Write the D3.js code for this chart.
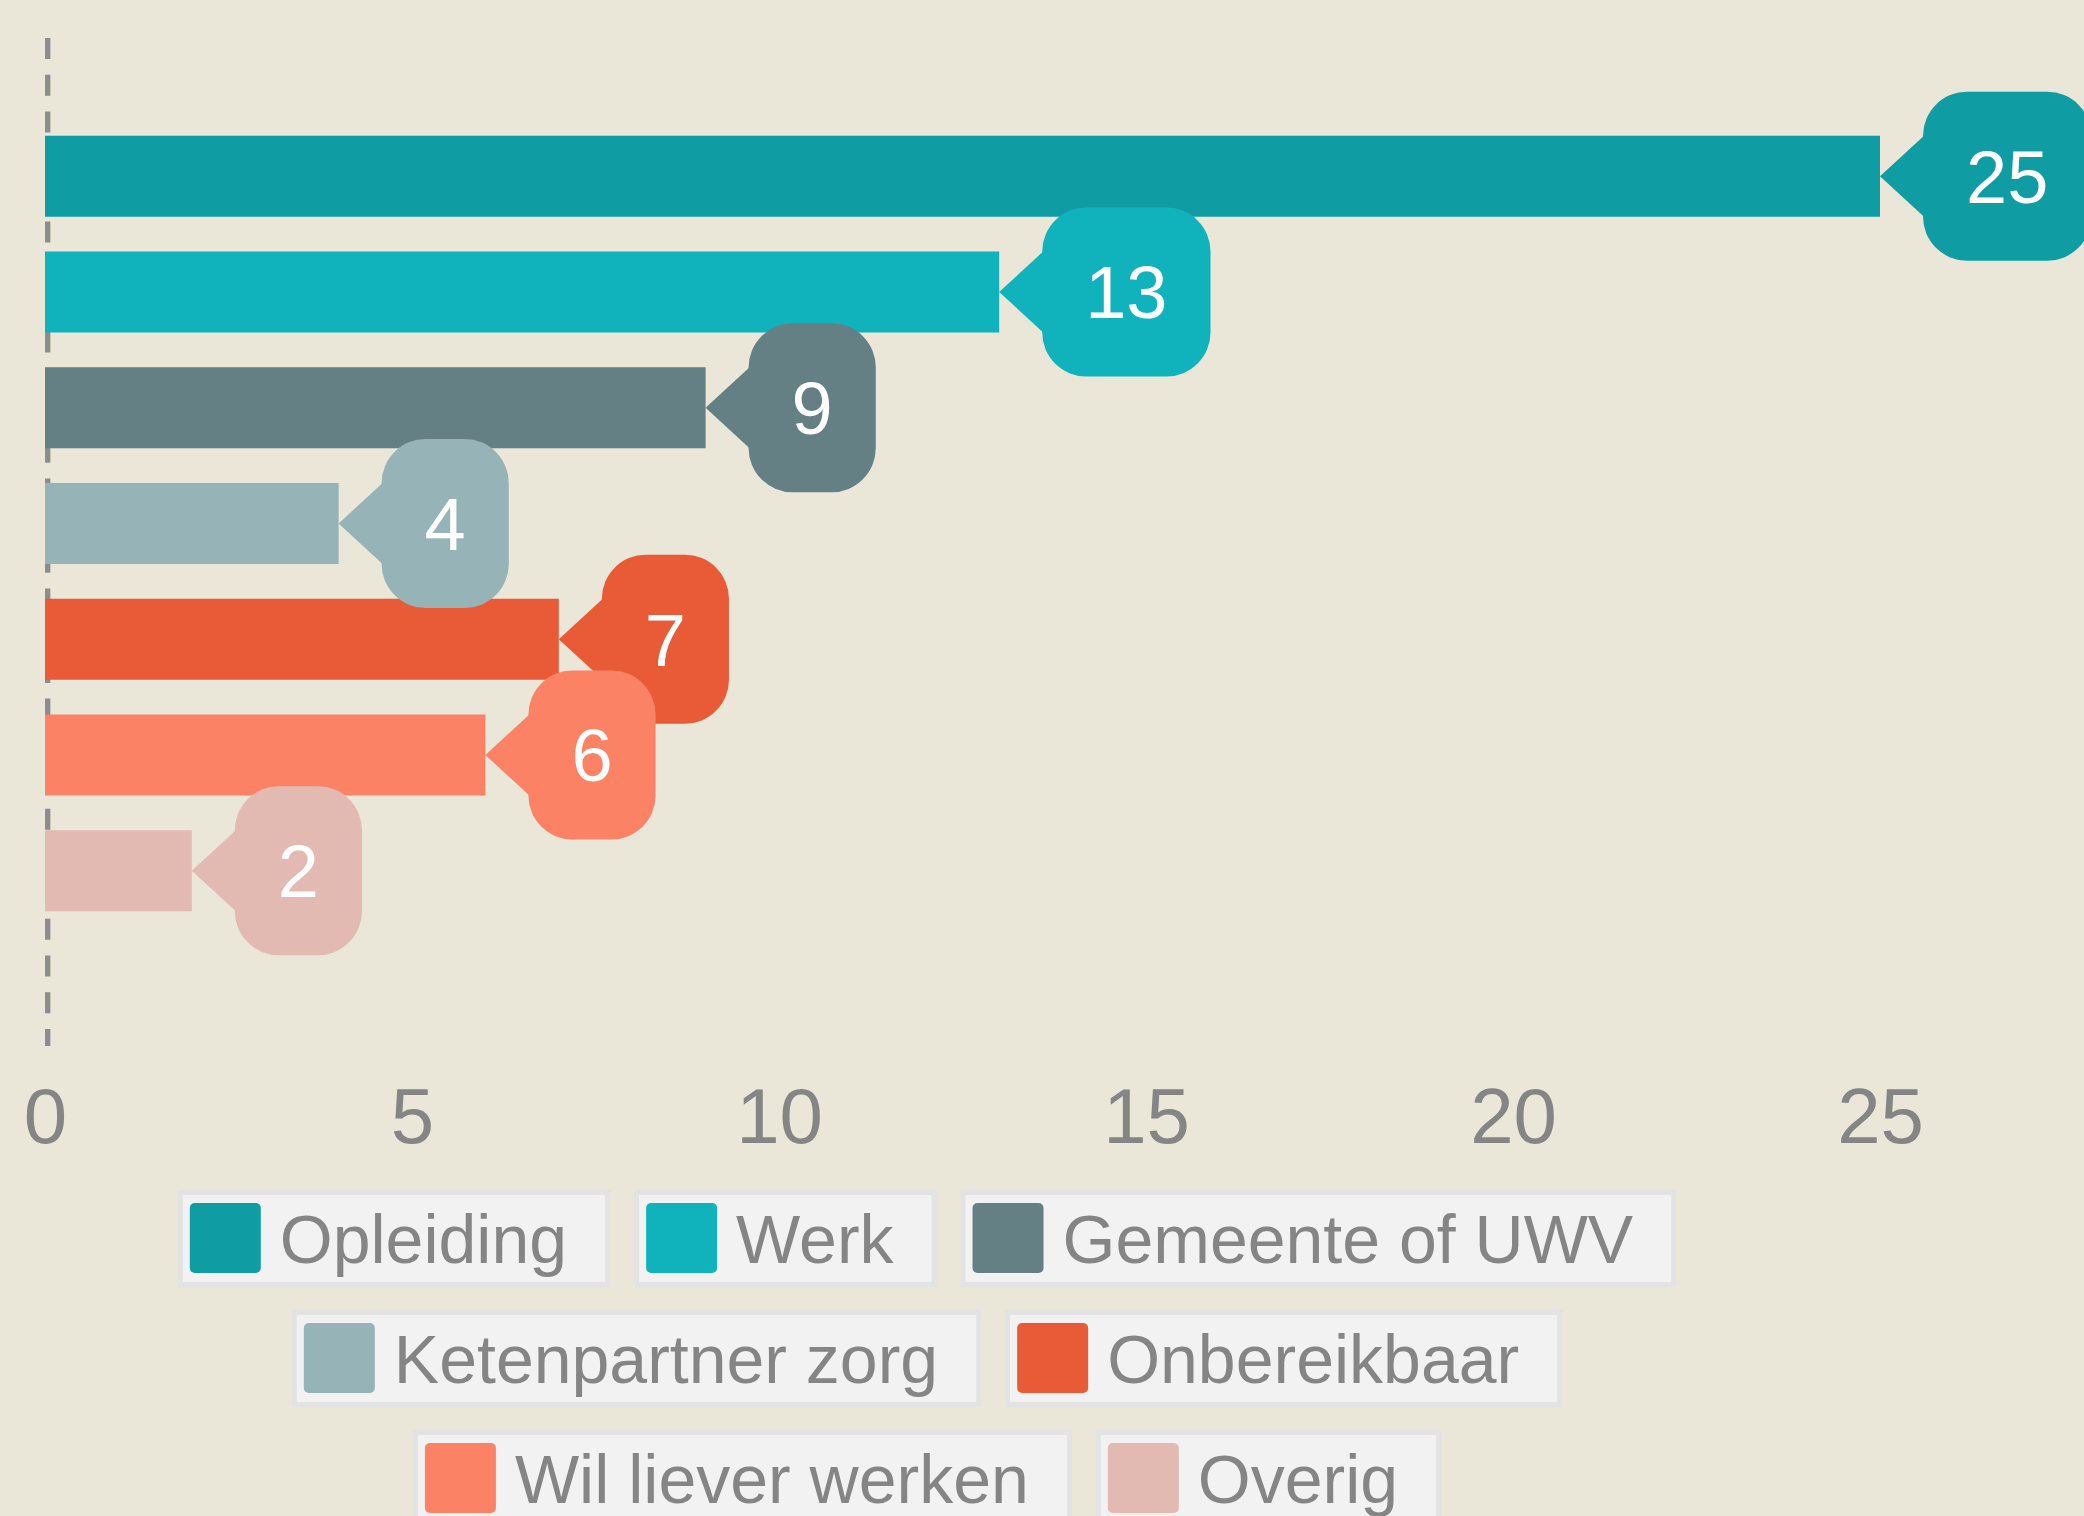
<!DOCTYPE html>
<html>
<head>
<meta charset="utf-8">
<script src="https://cdn.jsdelivr.net/npm/d3@7"></script>
<style>
  body { margin: 0; background: #EAE6D8; }
  svg { display: block; font-family: "Liberation Sans", Arial, sans-serif; }
</style>
</head>
<body>
<svg id="chart"></svg>
<script>
// data
var categories = ["Opleiding", "Werk", "Gemeente of UWV", "Ketenpartner zorg", "Onbereikbaar", "Wil liever werken", "Overig"];
var values = [25, 13, 9, 4, 7, 6, 2];
var colors = ["#0F9DA3", "#10B3BC", "#648084", "#96B3B8", "#E95B37", "#FC8266", "#E2BAB1"];
var tickValues = [0, 5, 10, 15, 20, 25];

var width = 2084, height = 1516;
var svg = d3.select("#chart").attr("width", width).attr("height", height);

svg.append("rect").attr("width", width).attr("height", height).attr("fill", "#EAE6D8");

var x = d3.scaleLinear().domain([0, 25]).range([45, 1880]);
var y = d3.scaleBand().domain(categories).range([101, 946]).paddingInner(0.3).paddingOuter(0.3);

// dashed zero line
svg.append("line")
  .attr("x1", x(0) + 2.7).attr("x2", x(0) + 2.7)
  .attr("y1", 38).attr("y2", 1046)
  .attr("stroke", "#8C8C8C")
  .attr("stroke-width", 5.3)
  .attr("stroke-dasharray", "21 15.7");

// bars
svg.append("g").selectAll("rect")
  .data(categories)
  .enter()
  .append("rect")
  .attr("x", x(0))
  .attr("y", d => y(d))
  .attr("width", (d, i) => x(values[i]) - x(0))
  .attr("height", y.bandwidth())
  .attr("fill", (d, i) => colors[i]);

// value bubbles
var bubbleH = 169, arrowLen = 43, pad = 43, fsLabel = 74;
var labels = svg.append("g").selectAll("g")
  .data(categories)
  .enter()
  .append("g");

labels.each(function (d, i) {
  var g = d3.select(this);
  var cy = y(d) + y.bandwidth() / 2;
  var x0 = x(values[i]);
  var bx = x0 + arrowLen;
  var half = y.bandwidth() / 2;
  var txt = g.append("text")
    .text(values[i])
    .attr("font-size", fsLabel)
    .attr("fill", "#FFFFFF")
    .attr("text-anchor", "middle");
  var tw = txt.node().getComputedTextLength();
  var bw = tw + pad * 2;
  g.insert("path", "text")
    .attr("d", "M" + x0 + "," + cy + "L" + (bx + 1) + "," + (cy - half) + "L" + (bx + 1) + "," + (cy + half) + "Z")
    .attr("fill", colors[i]);
  g.insert("rect", "text")
    .attr("x", bx).attr("y", cy - bubbleH / 2)
    .attr("width", bw).attr("height", bubbleH)
    .attr("rx", 44).attr("ry", 44)
    .attr("fill", colors[i]);
  txt.attr("x", bx + bw / 2).attr("y", cy + fsLabel * 0.358);
});

// x axis
var axis = svg.append("g")
  .attr("transform", "translate(0,1143)")
  .call(d3.axisBottom(x).tickValues(tickValues).tickSize(0).tickPadding(0));
axis.select(".domain").remove();
axis.selectAll("text")
  .attr("y", 0).attr("dy", 0)
  .attr("font-size", 78)
  .attr("font-family", "Liberation Sans, Arial, sans-serif")
  .attr("fill", "#858585");

// legend
var legendFs = 68, itemH = 97, gapX = 24, rowPitch = 120, legendTop = 1190, legendCenter = 927, maxRow = 1600;
var legend = svg.append("g");
var items = categories.map(function (c, i) {
  var g = legend.append("g");
  var box = g.append("rect")
    .attr("x", 2.5).attr("y", 2.5)
    .attr("height", itemH - 5)
    .attr("fill", "#F2F2F2")
    .attr("stroke", "#E3E3E3")
    .attr("stroke-width", 5);
  g.append("rect")
    .attr("x", 12).attr("y", 13)
    .attr("width", 71).attr("height", 70)
    .attr("rx", 5)
    .attr("fill", colors[i]);
  var t = g.append("text")
    .attr("x", 102).attr("y", 73)
    .attr("font-size", legendFs)
    .attr("fill", "#858585")
    .text(c);
  var w = t.node().getComputedTextLength() + 145;
  box.attr("width", w - 5);
  return { g: g, w: w };
});

// wrap into rows
var rows = [[]], rowW = 0;
items.forEach(function (it) {
  var add = (rows[rows.length - 1].length ? gapX : 0) + it.w;
  if (rowW + add > maxRow && rows[rows.length - 1].length) {
    rows.push([]);
    rowW = it.w;
  } else {
    rowW += add;
  }
  rows[rows.length - 1].push(it);
});
rows.forEach(function (row, r) {
  var total = d3.sum(row, d => d.w) + gapX * (row.length - 1);
  var cx = legendCenter - total / 2;
  row.forEach(function (it) {
    it.g.attr("transform", "translate(" + cx + "," + (legendTop + r * rowPitch) + ")");
    cx += it.w + gapX;
  });
});
</script>
</body>
</html>
